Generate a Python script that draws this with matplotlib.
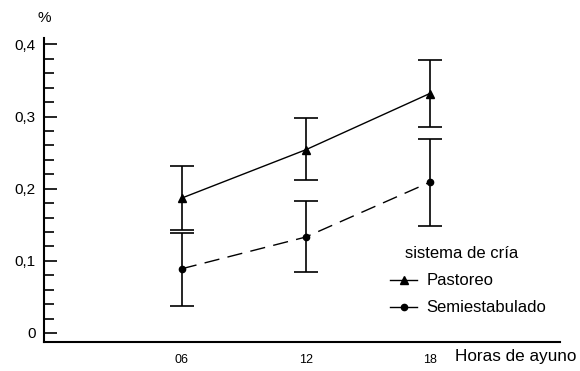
import matplotlib.pyplot as plt
from matplotlib.lines import Line2D
from matplotlib.ticker import MultipleLocator, FuncFormatter

plt.rcParams['font.family'] = ['Liberation Sans', 'DejaVu Sans']

hours = ["06", "12", "18"]
pastoreo = [0.187, 0.254, 0.332]
pastoreo_low = [0.143, 0.212, 0.285]
pastoreo_high = [0.231, 0.298, 0.378]
semi = [0.089, 0.133, 0.209]
semi_low = [0.038, 0.084, 0.148]
semi_high = [0.139, 0.183, 0.269]

x = list(range(len(hours)))

fig = plt.figure(figsize=(5.8, 3.71), dpi=100)
ax = fig.add_axes([0.0759, 0.0782, 0.8896, 0.8194])

err_p = [[m - lo for m, lo in zip(pastoreo, pastoreo_low)],
         [hi - m for m, hi in zip(pastoreo, pastoreo_high)]]
err_s = [[m - lo for m, lo in zip(semi, semi_low)],
         [hi - m for m, hi in zip(semi, semi_high)]]

ax.errorbar(x, pastoreo, yerr=err_p, color="black", lw=1.0, elinewidth=1.2,
            capsize=8.5, capthick=1.2, marker="^", ms=5.5)
ax.errorbar(x, semi, yerr=err_s, color="black", lw=1.0, elinewidth=1.2,
            capsize=8.5, capthick=1.2, marker="o", ms=4.5, dashes=(11, 6))

ax.set_xlim(-1.11, 3.05)
ax.set_ylim(-0.0125, 0.409)

for s in ["top", "right"]:
    ax.spines[s].set_visible(False)
ax.spines["left"].set_linewidth(1.5)
ax.spines["bottom"].set_linewidth(1.5)

ax.yaxis.set_major_locator(MultipleLocator(0.1))
ax.yaxis.set_minor_locator(MultipleLocator(0.02))
ax.yaxis.set_major_formatter(FuncFormatter(lambda v, p: "0" if abs(v) < 1e-9 else f"{v:.1f}".replace(".", ",")))
ax.tick_params(axis="y", which="both", direction="in", length=9, width=1.2, labelsize=11, pad=6)
ax.tick_params(axis="y", which="minor", length=7)

ax.set_xticks(x)
ax.set_xticklabels(hours)
ax.tick_params(axis="x", length=0, labelsize=9, pad=9)

fig.text(44 / 580, 1 - 18 / 371, "%", fontsize=11, ha="center", va="center")
fig.text(455 / 580, 1 - 357 / 371, "Horas de ayuno", fontsize=12.3, ha="left", va="center")

handles = [Line2D([], [], color="black", lw=1.0, marker="^", ms=5.5),
           Line2D([], [], color="black", lw=1.0, marker="o", ms=4.5)]
leg = ax.legend(handles, ["Pastoreo", "Semiestabulado"], loc="upper left",
                bbox_to_anchor=(382 / 580, 1 - 238 / 371), bbox_transform=fig.transFigure,
                frameon=False, title="sistema de cría", fontsize=12, title_fontsize=12,
                handlelength=1.6, handletextpad=0.55, labelspacing=0.72, borderpad=0)
leg._legend_box.align = "left"
leg.get_title().set_position((15, 0))

fig.savefig("out.png", dpi=100)
